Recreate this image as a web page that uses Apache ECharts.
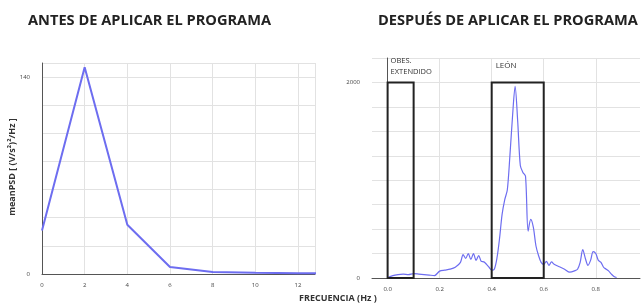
<!DOCTYPE html>
<html><head><meta charset="utf-8">
<script src="https://cdn.jsdelivr.net/npm/echarts@6/dist/echarts.min.js"></script>
<style>html,body{margin:0;padding:0;background:#fff}#c{width:641px;height:308px}</style>
</head><body><div id="c"></div>
<script>
const titleBefore = 'ANTES DE APLICAR EL PROGRAMA';
const titleAfter = 'DESPUÉS DE APLICAR EL PROGRAMA';
const yAxisName = 'meanPSD [ (V/s²)²/Hz ]';
const xAxisName = 'FRECUENCIA (Hz )';

const freqBefore = [0, 2, 4, 6, 8, 10, 12, 13];
const psdBefore = [31, 147, 35, 5, 1.5, 0.8, 0.5, 0.5];

const freqAfter = [0.0,0.02,0.04,0.06,0.08,0.10,0.12,0.14,0.16,0.18,0.20,0.22,0.24,0.26,0.28,0.29,0.30,0.31,0.32,0.33,0.34,0.35,0.36,0.37,0.38,0.39,0.40,0.41,0.42,0.43,0.44,0.45,0.46,0.47,0.48,0.49,0.50,0.51,0.52,0.53,0.54,0.55,0.56,0.57,0.58,0.59,0.60,0.61,0.62,0.63,0.64,0.66,0.68,0.70,0.72,0.73,0.74,0.75,0.76,0.77,0.78,0.79,0.80,0.81,0.82,0.83,0.84,0.85,0.86,0.87,0.88];
const psdAfter = [5,25,35,40,35,45,40,35,30,25,70,80,90,110,160,240,200,250,190,250,180,230,170,165,140,110,80,90,200,400,650,800,900,1250,1650,1960,1600,1150,1080,1040,480,600,520,330,230,160,140,170,130,165,140,115,90,60,75,90,160,290,200,130,180,270,250,180,160,110,90,70,40,15,5];

const boxLabels = ['OBES.\nEXTENDIDO', 'LEÓN'];
const boxRanges = [[0.0, 0.1], [0.4, 0.6]];
const boxTop = 2000;
const ticksAfterX = [0, 0.2, 0.4, 0.6, 0.8];

const lineColor = '#6d6df0';
const gridColor = '#e2e2e2';
const axisColor = '#555';
const font = 'Open Sans';

const chart = echarts.init(document.getElementById('c'));
chart.setOption({
  animation: false,
  textStyle: {fontFamily: font},
  title: [
    {text: titleBefore, left: 23, top: 8, textStyle: {fontSize: 14.6, fontWeight: 'bold', color: '#222', fontFamily: font}},
    {text: titleAfter, left: 373, top: 8, textStyle: {fontSize: 14.6, fontWeight: 'bold', color: '#222', fontFamily: font}}
  ],
  grid: [
    {left: 42, top: 63, width: 273, height: 211},
    {left: 372, top: 58, width: 268, height: 220}
  ],
  graphic: [
    {type: 'text', left: 299, top: 294, style: {text: xAxisName, fontSize: 9, fontWeight: 'bold', fill: '#333', fontFamily: font}},
    {type: 'text', x: 12, y: 167, rotation: Math.PI / 2, style: {text: yAxisName, fontSize: 9, fontWeight: 'bold', fill: '#333', fontFamily: font, align: 'center', verticalAlign: 'middle'}}
  ],
  xAxis: [
    {type: 'value', gridIndex: 0, min: 0, max: 12.8, interval: 2,
     axisLine: {lineStyle: {color: axisColor}}, axisTick: {show: false},
     axisLabel: {fontSize: 6, color: '#444', margin: 8, showMaxLabel: false},
     splitLine: {show: true, lineStyle: {color: gridColor}}},
    {type: 'value', gridIndex: 1, min: -0.06, max: 0.97,
     axisLine: {lineStyle: {color: axisColor}},
     axisTick: {show: false, customValues: ticksAfterX},
     axisLabel: {fontSize: 6, color: '#444', margin: 8, customValues: ticksAfterX, formatter: v => v.toFixed(1)},
     splitLine: {show: false}}
  ],
  yAxis: [
    {type: 'value', gridIndex: 0, min: 0, max: 150, interval: 20,
     axisLine: {show: true, lineStyle: {color: axisColor}}, axisTick: {show: false},
     axisLabel: {fontSize: 6, color: '#444', margin: 12, showMaxLabel: false, formatter: v => (v === 0 || v === 140) ? String(v) : ''},
     splitLine: {show: true, lineStyle: {color: gridColor}}},
    {type: 'value', gridIndex: 1, min: 0, max: 2250, interval: 250,
     axisLine: {show: true, lineStyle: {color: axisColor}}, axisTick: {show: false},
     axisLabel: {fontSize: 6, color: '#444', margin: 12, showMaxLabel: false, formatter: v => (v === 0 || v === 2000) ? String(v) : ''},
     splitLine: {show: true, lineStyle: {color: gridColor}}}
  ],
  series: [
    {type: 'line', xAxisIndex: 0, yAxisIndex: 0, data: freqBefore.map((f, i) => [f, psdBefore[i]]),
     symbol: 'none', clip: true, lineStyle: {color: lineColor, width: 2}},
    {type: 'line', xAxisIndex: 1, yAxisIndex: 1, data: [],
     symbol: 'none', z: 1,
     markLine: {silent: true, symbol: 'none', label: {show: false}, z: 0,
       lineStyle: {color: gridColor, type: 'solid', width: 1},
       data: ticksAfterX.map(v => ({xAxis: v}))}},
    {type: 'line', xAxisIndex: 1, yAxisIndex: 1, data: freqAfter.map((f, i) => [f, psdAfter[i]]),
     symbol: 'none', smooth: 0.3, lineStyle: {color: lineColor, width: 1.2}, z: 3,
     markArea: {silent: true, z: 10,
       itemStyle: {color: 'rgba(0,0,0,0)', borderColor: '#222', borderWidth: 2},
       label: {show: true, position: [4, -26], fontSize: 7.5, color: '#333', lineHeight: 11, fontFamily: font},
       data: boxRanges.map((r, i) => [
         {xAxis: r[0], yAxis: 0, name: boxLabels[i], label: i === 1 ? {position: [5, -21], fontSize: 8} : undefined},
         {xAxis: r[1], yAxis: boxTop}
       ])}}
  ]
});
</script></body></html>
